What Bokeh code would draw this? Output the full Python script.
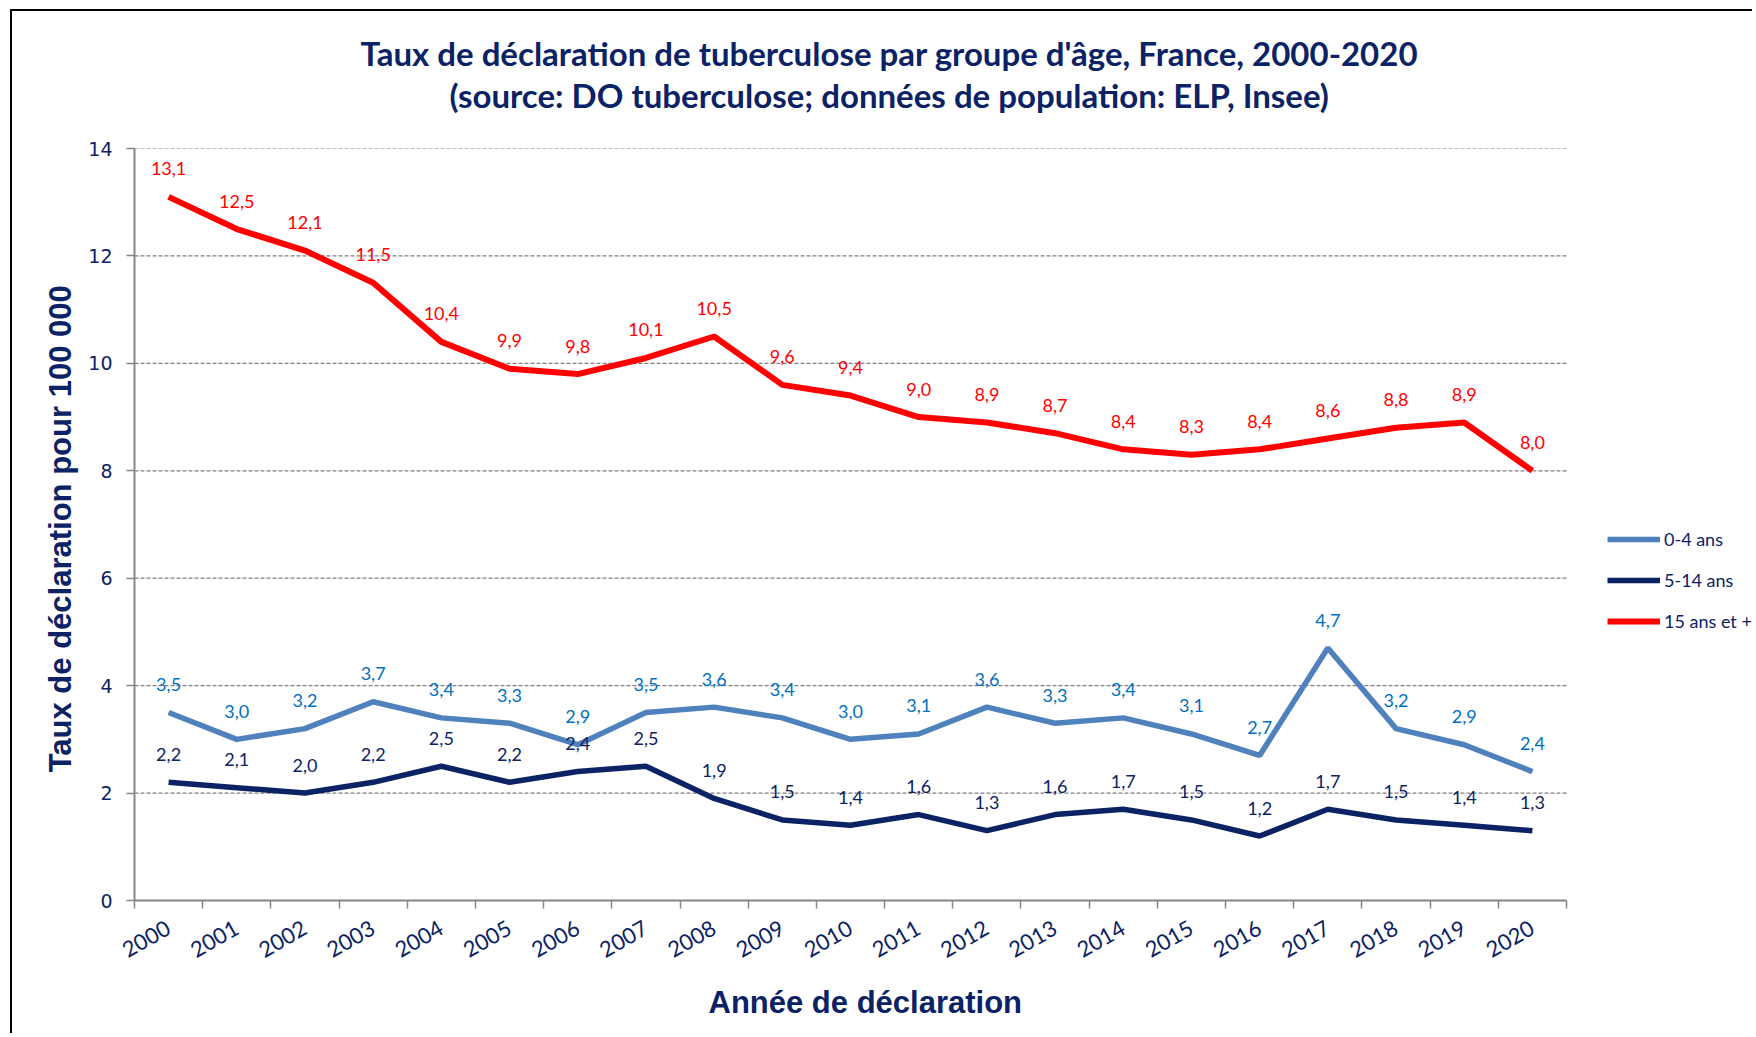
from bokeh.plotting import figure
from bokeh.models import (Range1d, FixedTicker, Legend, LegendItem, ColumnDataSource, Title, LinearAxis)
from bokeh.embed import file_html
from bokeh.resources import INLINE
from bokeh.core.properties import value

years = [str(y) for y in range(2000, 2021)]
rate_0_4 = [3.5, 3.0, 3.2, 3.7, 3.4, 3.3, 2.9, 3.5, 3.6, 3.4, 3.0, 3.1, 3.6, 3.3, 3.4, 3.1, 2.7, 4.7, 3.2, 2.9, 2.4]
rate_5_14 = [2.2, 2.1, 2.0, 2.2, 2.5, 2.2, 2.4, 2.5, 1.9, 1.5, 1.4, 1.6, 1.3, 1.6, 1.7, 1.5, 1.2, 1.7, 1.5, 1.4, 1.3]
rate_15p = [13.1, 12.5, 12.1, 11.5, 10.4, 9.9, 9.8, 10.1, 10.5, 9.6, 9.4, 9.0, 8.9, 8.7, 8.4, 8.3, 8.4, 8.6, 8.8, 8.9, 8.0]
series_names = ["0-4 ans", "5-14 ans", "15 ans et +"]
y_ticks = [0, 2, 4, 6, 8, 10, 12, 14]

title_1 = "Taux de déclaration de tuberculose par groupe d'âge, France, 2000-2020"
title_2 = "(source: DO tuberculose; données de population: ELP, Insee)"
x_title = "Année de déclaration"
y_title = "Taux de déclaration pour  100 000"

NAVY = "#0B2265"
line_colors = ["#4F81BD", "#0B2265", "#FF0000"]
label_colors = ["#0070C0", "#0B2265", "#FF0000"]
GRAY = "#868686"

W, H = 1742, 1024
BL, BR, BT, BB = 122, 0, 137, 134
AXIS_PX = 1432          # pixel length of the category axis
n = len(years)
x_end = n * (W - BL - BR) / AXIS_PX   # frame extends to the right to host the legend

p = figure(width=W, height=H, output_backend="svg", toolbar_location=None,
           x_range=Range1d(0, x_end), y_range=Range1d(0, 14),
           min_border_left=BL, min_border_right=BR, min_border_top=BT, min_border_bottom=BB)
p.outline_line_color = None
p.styles = {"margin-left": "10px", "margin-top": "9px",
            "border-left": "2px solid #000000", "border-top": "2px solid #000000"}

xs = [i + 0.5 for i in range(n)]

# x axis
p.xaxis.bounds = (0, n)
p.xaxis.ticker = FixedTicker(ticks=xs, minor_ticks=list(range(n + 1)))
p.xaxis.major_label_overrides = {x: y for x, y in zip(xs, years)}
p.xaxis.major_tick_line_color = None
p.xaxis.major_tick_out = 8
p.xaxis.major_tick_in = 0
p.xaxis.minor_tick_line_color = GRAY
p.xaxis.minor_tick_line_width = 1.5
p.xaxis.minor_tick_out = 8
p.xaxis.minor_tick_in = 0
p.xaxis.axis_line_color = GRAY
p.xaxis.axis_line_width = 2
p.xaxis.major_label_orientation = 0.52
p.xaxis.major_label_text_font = "Lato"
p.xaxis.major_label_text_font_size = "22px"
p.xaxis.major_label_text_color = NAVY
p.xaxis.major_label_standoff = 18

# y axis
p.yaxis.ticker = FixedTicker(ticks=y_ticks)
p.yaxis.axis_line_color = GRAY
p.yaxis.axis_line_width = 2
p.yaxis.major_tick_line_color = GRAY
p.yaxis.major_tick_line_width = 1.5
p.yaxis.major_tick_out = 8
p.yaxis.major_tick_in = 0
p.yaxis.minor_tick_line_color = None
p.yaxis.major_label_text_font = "DejaVu Sans"
p.yaxis.major_label_text_font_size = "19px"
p.yaxis.major_label_text_color = NAVY
p.yaxis.major_label_standoff = 14
p.yaxis.axis_label = y_title
p.yaxis.axis_label_text_font = "Liberation Sans"
p.yaxis.axis_label_text_font_style = "bold"
p.yaxis.axis_label_text_font_size = "31px"
p.yaxis.axis_label_text_color = NAVY
p.yaxis.axis_label_standoff = 7

# horizontal dashed grid lines, limited to the category axis extent
p.xgrid.grid_line_color = None
p.ygrid.grid_line_color = None
gy = y_ticks[1:]
p.segment(x0=[0] * len(gy), x1=[n] * len(gy), y0=gy, y1=gy,
          line_color="#7F7F7F", line_dash="4 2", line_width=1.2)

renderers = []
for name, vals, lc, tc in zip(series_names, [rate_0_4, rate_5_14, rate_15p], line_colors, label_colors):
    src = ColumnDataSource(dict(x=xs, y=vals, lab=[f"{v:.1f}".replace(".", ",") for v in vals]))
    r = p.line("x", "y", source=src, line_color=lc, line_width=6 if lc == "#FF0000" else 5.5)
    renderers.append(r)
    p.text("x", "y", text="lab", source=src, text_color=tc, text_font=value("Lato"),
           text_font_size="18px", text_align="center", text_baseline="middle", y_offset=-28)

legend = Legend(items=[LegendItem(label=nm, renderers=[r]) for nm, r in zip(series_names, renderers)],
                location=(1473, 268))
legend.background_fill_alpha = 0
legend.border_line_color = None
legend.glyph_width = 53
legend.glyph_height = 20
legend.label_height = 20
legend.spacing = 19
legend.padding = 0
legend.margin = 0
legend.label_standoff = 4
legend.label_text_font = "Lato"
legend.label_text_font_size = "18px"
legend.label_text_color = NAVY
p.add_layout(legend)

# invisible spacer between the frame and the two title lines
spacer_tick = n + 1
spacer = LinearAxis(ticker=FixedTicker(ticks=[spacer_tick], minor_ticks=[]), axis_line_color=None,
                    major_tick_line_color=None, minor_tick_line_color=None,
                    major_label_overrides={spacer_tick: ""}, major_label_text_font_size="1px",
                    major_tick_out=34, major_tick_in=0, minor_tick_out=0, major_label_standoff=0)
p.add_layout(spacer, "above")
# titles: first added sits closest to the frame
p.add_layout(Title(text=title_2, align="left", offset=315, standoff=0,
                   text_font="Lato", text_font_style="bold", text_font_size="33px",
                   text_color=NAVY), "above")
p.add_layout(Title(text=title_1, align="left", offset=226, standoff=0,
                   text_font="Lato", text_font_style="bold", text_font_size="33px",
                   text_color=NAVY), "above")

# x-axis title, placed under the tick labels and aligned on the category axis
p.add_layout(Title(text=x_title, align="left", offset=574, standoff=31,
                   text_font="Liberation Sans", text_font_style="bold", text_font_size="31px",
                   text_color=NAVY), "below")

open("out.html", "w").write(file_html(p, INLINE))
